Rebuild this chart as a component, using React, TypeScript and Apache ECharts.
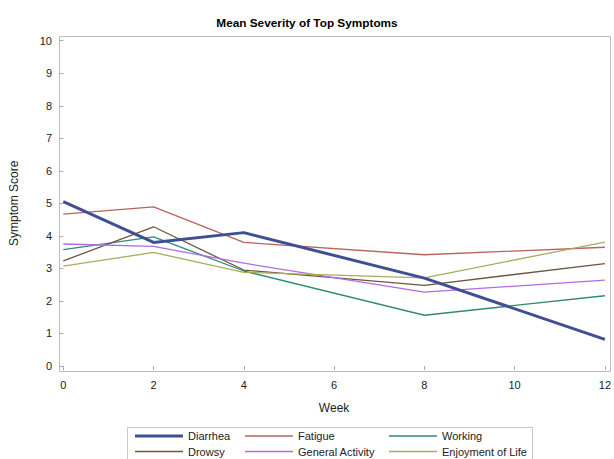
import React, { useEffect, useRef } from "react";
import * as echarts from "echarts";

const weeks = [0, 2, 4, 8, 12];
const seriesNames = ["Diarrhea", "Fatigue", "Working", "Drowsy", "General Activity", "Enjoyment of Life"];
const diarrhea = [5.05, 3.8, 4.1, 2.7, 0.82];
const fatigue = [4.67, 4.89, 3.8, 3.42, 3.65];
const working = [3.58, 3.97, 2.92, 1.56, 2.16];
const drowsy = [3.23, 4.28, 2.95, 2.48, 3.15];
const generalActivity = [3.75, 3.68, 3.16, 2.27, 2.64];
const enjoyment = [3.07, 3.49, 2.88, 2.71, 3.81];
const yTicks = [0, 10];
const xTicks = [0, 12];

const FONT = "'Liberation Sans', Arial, sans-serif";

export default function App() {
  const ref = useRef<HTMLDivElement>(null);
  useEffect(() => {
    if (!ref.current) return;
    const chart = echarts.init(ref.current, null, { renderer: "svg" });
    const values = [diarrhea, fatigue, working, drowsy, generalActivity, enjoyment];
    const colors = ["#3F4F94", "#B8645C", "#2F8A78", "#6B5740", "#B26BE4", "#A6AE5C"];
    const widths = [3, 1.3, 1.3, 1.3, 1.3, 1.3];
    const series = seriesNames.map((name, i) => ({
      name,
      type: "line",
      data: weeks.map((w, j) => [w, values[i][j]]),
      symbol: "none",
      showSymbol: false,
      z: i === 0 ? 10 : 2,
      color: colors[i],
      lineStyle: { color: colors[i], width: widths[i] },
    }));
    const lefts = [135, 245, 389];
    const tops = [430.5, 446];
    const legends = seriesNames.map((name, i) => ({
      orient: "horizontal",
      left: lefts[i % 3],
      top: tops[Math.floor(i / 3)],
      padding: 0,
      icon: "rect",
      itemWidth: 48,
      itemHeight: widths[i] > 2 ? 3 : 1.3,
      textStyle: { fontSize: 11, color: "#222", fontFamily: FONT },
      selectedMode: false,
      data: [name],
    }));
    chart.setOption({
      animation: false,
      backgroundColor: "#fff",
      title: {
        text: "Mean Severity of Top Symptoms",
        left: "center",
        top: 12,
        textStyle: { fontSize: 11.8, fontWeight: "bold", color: "#000", fontFamily: FONT },
      },
      grid: { left: 63.3, right: 8.3, top: 40.7, bottom: 93 },
      xAxis: {
        type: "value",
        min: xTicks[0],
        max: xTicks[1],
        interval: 2,
        offset: 5.7,
        name: "Week",
        nameLocation: "middle",
        nameGap: 30,
        nameTextStyle: { fontSize: 12, color: "#222", fontFamily: FONT },
        axisLine: { show: false },
        axisTick: { show: true, length: 4, lineStyle: { color: "#A8A8A8" } },
        axisLabel: { fontSize: 11, color: "#222", margin: 8, fontFamily: FONT },
        splitLine: { show: false },
      },
      yAxis: {
        type: "value",
        min: yTicks[0],
        max: yTicks[1],
        interval: 1,
        offset: 3.3,
        name: "Symptom Score",
        nameLocation: "middle",
        nameGap: 40,
        nameTextStyle: { fontSize: 12, color: "#222", fontFamily: FONT },
        axisLine: { show: false },
        axisTick: { show: true, length: 4, lineStyle: { color: "#A8A8A8" } },
        axisLabel: { fontSize: 11, color: "#222", margin: 8, fontFamily: FONT },
        splitLine: { show: false },
      },
      legend: legends,
      graphic: [
        {
          type: "rect",
          silent: true,
          z: 0,
          shape: { x: 59.5, y: 36.5, width: 551, height: 335 },
          style: { fill: "none", stroke: "#BDBDBD", lineWidth: 1 },
        },
        {
          type: "rect",
          silent: true,
          z: 0,
          shape: { x: 127.5, y: 427.5, width: 405, height: 45 },
          style: { fill: "none", stroke: "#C8C8C8", lineWidth: 1 },
        },
      ],
      series,
    });
    return () => chart.dispose();
  }, []);
  return (
    <div
      ref={ref}
      style={{ position: "fixed", left: 0, top: 0, width: 614, height: 459, background: "#fff" }}
    />
  );
}
